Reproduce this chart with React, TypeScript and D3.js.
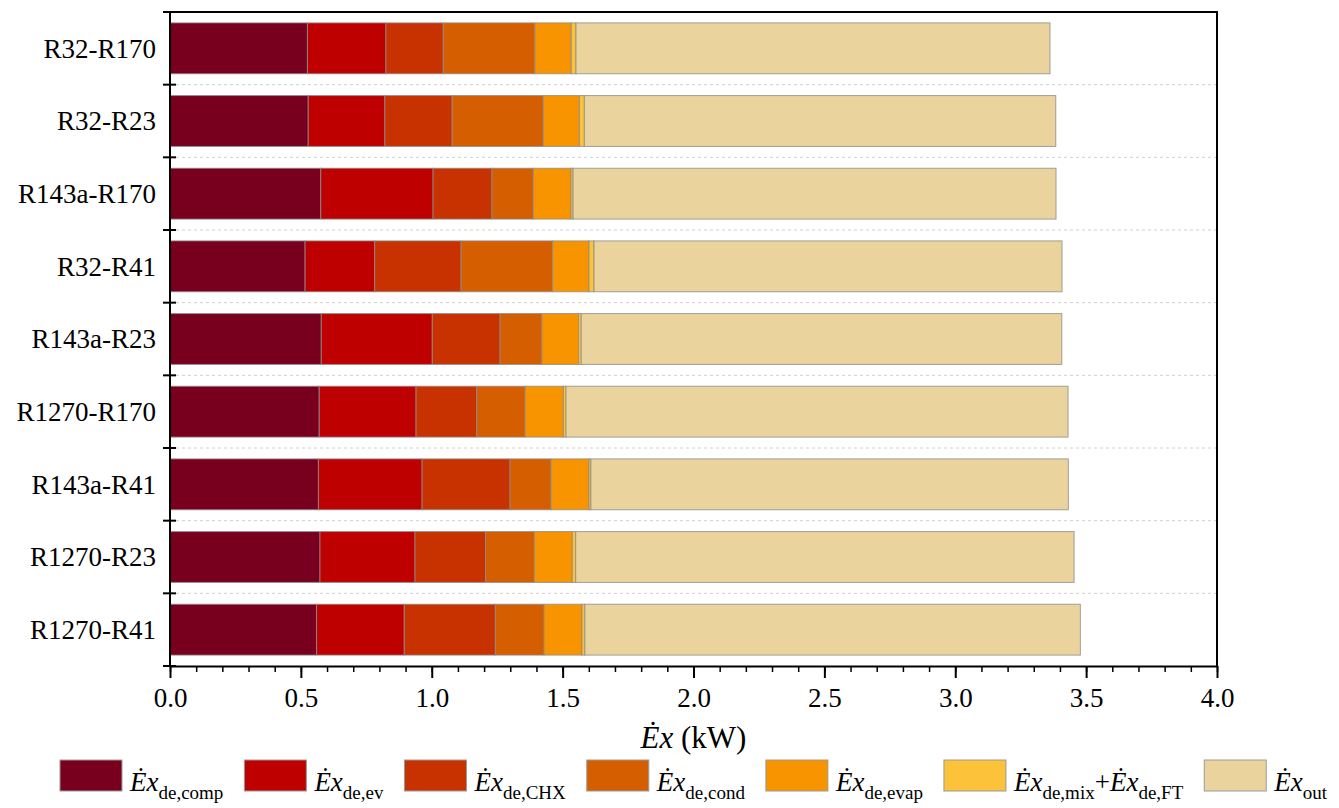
import { axisBottom, range, scaleBand, scaleLinear, select, stack } from 'd3';
import { useEffect, useRef } from 'react';

// refrigerant pairs, top to bottom
const categories = [
  'R32-R170',
  'R32-R23',
  'R143a-R170',
  'R32-R41',
  'R143a-R23',
  'R1270-R170',
  'R143a-R41',
  'R1270-R23',
  'R1270-R41',
];

// exergy values in kW
const compLoss = [0.525, 0.528, 0.576, 0.516, 0.578, 0.57, 0.567, 0.573, 0.56];
const evLoss = [0.3, 0.293, 0.429, 0.266, 0.424, 0.37, 0.396, 0.363, 0.335];
const chxLoss = [0.219, 0.257, 0.225, 0.33, 0.259, 0.232, 0.336, 0.27, 0.348];
const condLoss = [0.35, 0.348, 0.158, 0.35, 0.16, 0.185, 0.157, 0.186, 0.186];
const evapLoss = [0.139, 0.138, 0.144, 0.139, 0.14, 0.146, 0.145, 0.145, 0.145];
const mixFtLoss = [0.018, 0.019, 0.008, 0.019, 0.01, 0.01, 0.007, 0.013, 0.011];
const outExergy = [1.811, 1.801, 1.845, 1.788, 1.836, 1.918, 1.824, 1.904, 1.893];

const seriesKeys = ['comp', 'ev', 'chx', 'cond', 'evap', 'mix', 'out'];
const seriesValues = [compLoss, evLoss, chxLoss, condLoss, evapLoss, mixFtLoss, outExergy];
const seriesColors = ['#78001E', '#BE0000', '#C83200', '#D45E00', '#F79400', '#FCC23A', '#EBD39D'];

// legend labels: i = italic, n = normal, s = subscript
const legendLabels = [
  [['Ėx', 'i'], ['de,comp', 's']],
  [['Ėx', 'i'], ['de,ev', 's']],
  [['Ėx', 'i'], ['de,CHX', 's']],
  [['Ėx', 'i'], ['de,cond', 's']],
  [['Ėx', 'i'], ['de,evap', 's']],
  [['Ėx', 'i'], ['de,mix', 's'], ['+', 'n'], ['Ėx', 'i'], ['de,FT', 's']],
  [['Ėx', 'i'], ['out', 's']],
];

const xTicks = [0, 0.5, 1, 1.5, 2, 2.5, 3, 3.5, 4];

const WIDTH = 1339;
const HEIGHT = 808;
const MARGINS = { top: 12, right: 122, bottom: 142, left: 170 };
const FONT = 'Liberation Serif, Tinos, Times New Roman, serif';

const Chart = () => {
  const svgElem = useRef<SVGSVGElement>(null);

  useEffect(() => {
    if (!svgElem.current) {
      return;
    }
    const svg = select(svgElem.current);
    svg.selectAll('*').remove();

    const x0 = MARGINS.left;
    const x1 = WIDTH - MARGINS.right;
    const y0 = MARGINS.top;
    const y1 = HEIGHT - MARGINS.bottom;

    const xScale = scaleLinear().domain([0, 4]).range([x0, x1]);
    const yScale = scaleBand<string>()
      .domain(categories)
      .range([y0, y1])
      .paddingInner(0.3)
      .paddingOuter(0.15);
    const step = yScale.step();

    // build rows for the stack
    const rows = categories.map((cat, i) => {
      const row: Record<string, number | string> = { cat };
      seriesKeys.forEach((k, j) => {
        row[k] = seriesValues[j][i];
      });
      return row;
    });
    // @ts-expect-error: loose row typing
    const stacked = stack().keys(seriesKeys)(rows);

    // dashed separators between categories
    svg
      .append('g')
      .selectAll('line')
      .data(range(1, categories.length))
      .join('line')
      .attr('x1', x0)
      .attr('x2', x1)
      .attr('y1', (d) => y0 + d * step)
      .attr('y2', (d) => y0 + d * step)
      .attr('stroke', '#d0d0d0')
      .attr('stroke-width', 1)
      .attr('stroke-dasharray', '3,3');

    // bars
    svg
      .append('g')
      .selectAll('g')
      .data(stacked)
      .join('g')
      .attr('fill', (_, i) => seriesColors[i])
      .selectAll('rect')
      .data((s) => s)
      .join('rect')
      // @ts-expect-error: data row carries cat
      .attr('y', (d) => yScale(d.data.cat))
      .attr('height', yScale.bandwidth())
      .attr('x', (d) => xScale(d[0]))
      .attr('width', (d) => xScale(d[1]) - xScale(d[0]))
      .attr('stroke', '#8c8c8c')
      .attr('stroke-opacity', 0.8)
      .attr('stroke-width', 1);

    // x axis with minor ticks
    const minor = axisBottom(xScale)
      .tickValues(range(0, 41).map((d) => d / 10))
      .tickSize(6)
      .tickFormat(() => '');
    svg
      .append('g')
      .attr('transform', `translate(0, ${y1})`)
      .call(minor)
      .call((g) => g.select('.domain').remove())
      .call((g) => g.selectAll('line').attr('stroke', '#000').attr('stroke-width', 1.5));

    const xAxis = axisBottom(xScale)
      .tickValues(xTicks)
      .tickSize(12)
      .tickSizeOuter(0)
      .tickPadding(10)
      .tickFormat((d) => (d as number).toFixed(1));
    svg
      .append('g')
      .attr('transform', `translate(0, ${y1})`)
      .call(xAxis)
      .attr('font-family', null)
      .attr('font-size', null)
      .call((g) => g.select('.domain').attr('stroke', '#000').attr('stroke-width', 2))
      .call((g) => g.selectAll('line').attr('stroke', '#000').attr('stroke-width', 2))
      .call((g) =>
        g.selectAll('text').attr('fill', '#000').attr('font-family', FONT).attr('font-size', 27),
      );

    // y axis: line, ticks at band boundaries, labels
    svg
      .append('line')
      .attr('x1', x0)
      .attr('x2', x0)
      .attr('y1', y0)
      .attr('y2', y1)
      .attr('stroke', '#000')
      .attr('stroke-width', 2);
    svg
      .append('g')
      .selectAll('line')
      .data(range(0, categories.length + 1))
      .join('line')
      .attr('x1', x0 - 7)
      .attr('x2', x0 + 6)
      .attr('y1', (d) => y0 + d * step)
      .attr('y2', (d) => y0 + d * step)
      .attr('stroke', '#000')
      .attr('stroke-width', 2);
    svg
      .append('g')
      .selectAll('text')
      .data(categories)
      .join('text')
      .attr('x', x0 - 14)
      .attr('y', (d) => (yScale(d) ?? 0) + yScale.bandwidth() / 2)
      .attr('dy', '0.35em')
      .attr('text-anchor', 'end')
      .attr('font-family', FONT)
      .attr('font-size', 27)
      .text((d) => d);

    // frame top and right
    svg
      .append('path')
      .attr('d', `M${x0},${y0}H${x1}V${y1}`)
      .attr('fill', 'none')
      .attr('stroke', '#000')
      .attr('stroke-width', 2);

    // x axis title
    const title = svg
      .append('text')
      .attr('x', (x0 + x1) / 2)
      .attr('y', 748)
      .attr('text-anchor', 'middle')
      .attr('font-family', FONT)
      .attr('font-size', 31);
    title.append('tspan').attr('font-style', 'italic').text('Ėx');
    title.append('tspan').text(' (kW)');

    // legend
    const legend = svg.append('g');
    const boxW = 62;
    const boxH = 31;
    const gap = 21;
    const items = legendLabels.map((parts, i) => {
      const item = legend.append('g');
      item
        .append('rect')
        .attr('width', boxW)
        .attr('height', boxH)
        .attr('fill', seriesColors[i])
        .attr('stroke', '#9a9a9a')
        .attr('stroke-width', 1);
      const text = item
        .append('text')
        .attr('x', boxW + 8)
        .attr('y', boxH)
        .attr('font-family', FONT)
        .attr('font-size', 27);
      let shift = 0;
      parts.forEach(([t, kind]) => {
        const ts = text.append('tspan').text(t);
        if (kind === 's') {
          ts.attr('dy', 8 - shift).attr('font-size', 19);
          shift = 8;
        } else {
          if (shift !== 0) {
            ts.attr('dy', -shift);
            shift = 0;
          }
          if (kind === 'i') ts.attr('font-style', 'italic');
        }
      });
      const w = boxW + 8 + (text.node() as SVGTextElement).getComputedTextLength();
      return { item, w };
    });
    const total = items.reduce((s, d) => s + d.w, 0) + gap * (items.length - 1);
    let cx = (x0 + x1) / 2 - total / 2;
    items.forEach(({ item, w }) => {
      item.attr('transform', `translate(${cx}, 760)`);
      cx += w + gap;
    });
  }, [svgElem]);

  return (
    <svg
      ref={svgElem}
      width={WIDTH}
      height={HEIGHT}
      style={{ display: 'block', fontFamily: FONT }}
    />
  );
};

const App = () => {
  useEffect(() => {
    document.body.style.margin = '0';
  }, []);
  return <Chart />;
};

export default App;
